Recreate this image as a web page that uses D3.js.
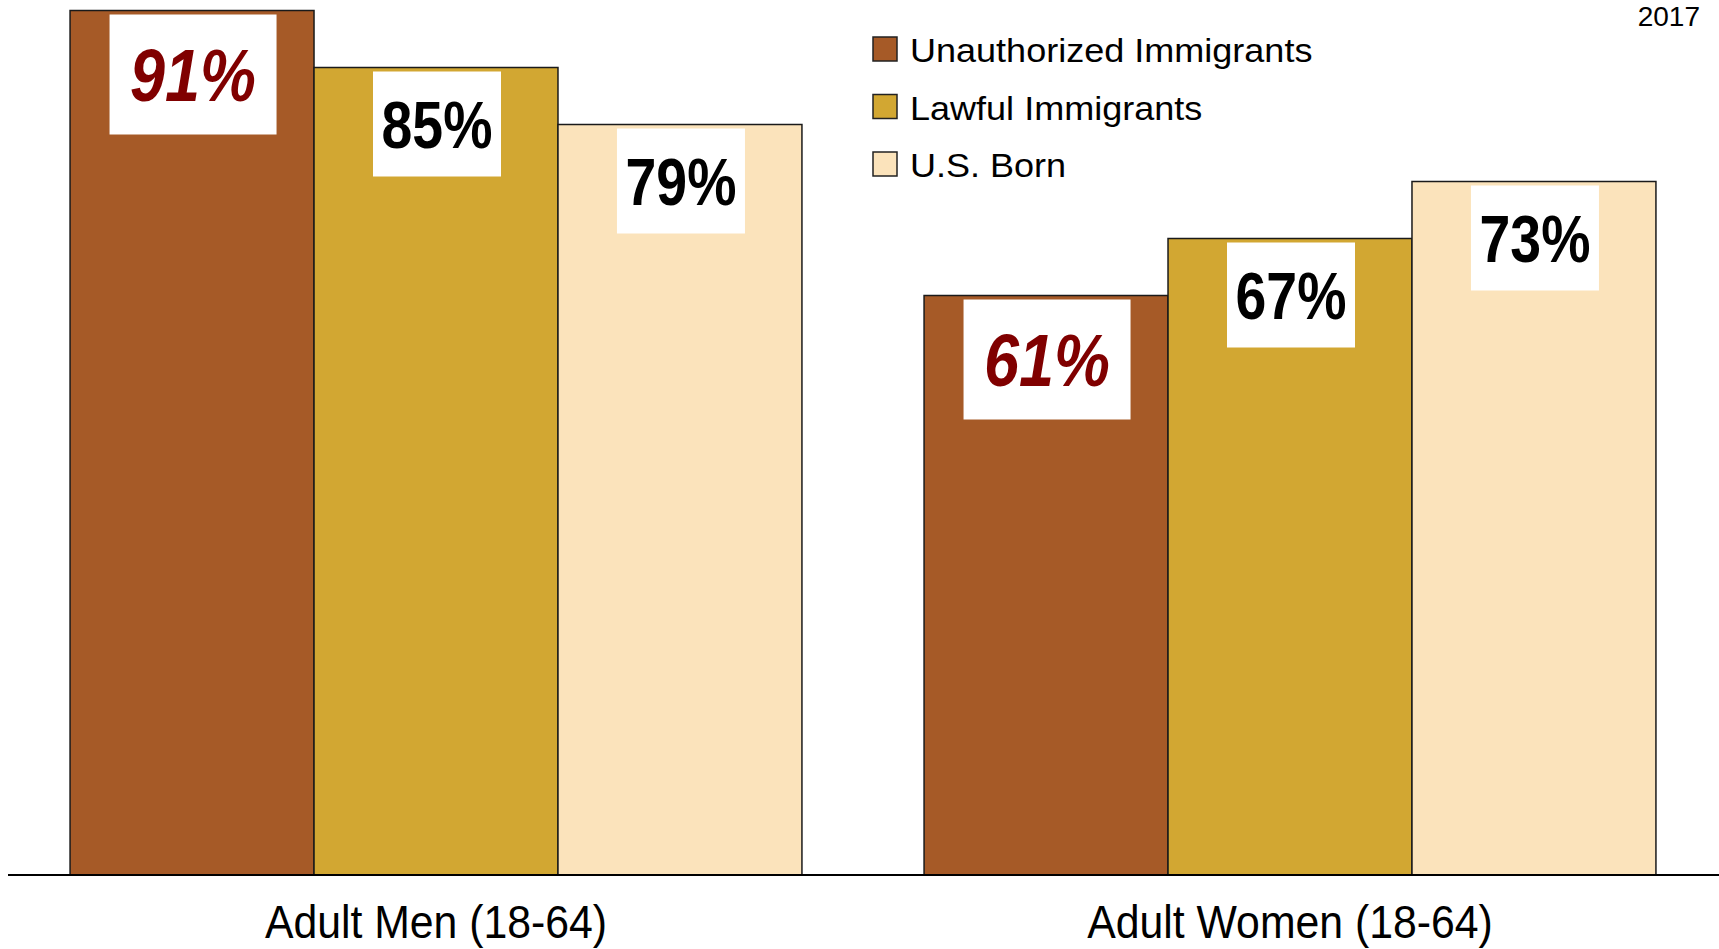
<!DOCTYPE html>
<html>
<head>
<meta charset="utf-8">
<script src="https://cdn.jsdelivr.net/npm/d3@7"></script>
<style>
  html, body { margin: 0; padding: 0; background: #fff; }
  svg { display: block; font-family: "Liberation Sans", Arial, sans-serif; }
</style>
</head>
<body>
<svg id="chart"></svg>
<script>
// ---- data ----
const groups = ["Adult Men (18-64)", "Adult Women (18-64)"];
const series = ["Unauthorized Immigrants", "Lawful Immigrants", "U.S. Born"];
const unauthorized = [91, 61];
const lawful = [85, 67];
const usBorn = [79, 73];
const yearNote = "2017";

const colors = ["#A65A27", "#D2A732", "#FBE3BB"];

// label box style per series (first series is highlighted)
const labelStyle = [
  { w: 167, h: 120, size: 74, sx: 0.85, italic: true, fill: "#800000" },
  { w: 128, h: 105, size: 66, sx: 0.84, italic: false, fill: "#000" },
  { w: 128, h: 105, size: 66, sx: 0.84, italic: false, fill: "#000" }
];

const width = 1719;
const height = 949;
const baseY = 875;

const svg = d3.select("#chart")
  .attr("width", width)
  .attr("height", height);

const values = [unauthorized, lawful, usBorn];
const rows = groups.map((g, gi) => ({
  group: g,
  items: series.map((s, si) => ({ series: s, si, value: values[si][gi] }))
}));

const x0 = d3.scaleBand()
  .domain(groups)
  .range([9, 1717])
  .paddingInner(0.143)
  .paddingOuter(0.0715);

const x1 = d3.scaleBand()
  .domain(series)
  .range([0, x0.bandwidth()]);

const y = d3.scaleLinear()
  .domain([0, 100])
  .range([baseY, baseY - 950]);

const color = d3.scaleOrdinal().domain(series).range(colors);

// ---- bars ----
const gGroups = svg.append("g")
  .selectAll("g")
  .data(rows)
  .join("g")
  .attr("transform", d => `translate(${x0(d.group)},0)`);

gGroups.selectAll("rect.bar")
  .data(d => d.items)
  .join("rect")
  .attr("class", "bar")
  .attr("x", d => x1(d.series))
  .attr("y", d => y(d.value))
  .attr("width", x1.bandwidth())
  .attr("height", d => baseY - y(d.value))
  .attr("fill", d => color(d.series))
  .attr("stroke", "#1a1a1a")
  .attr("stroke-width", 1.5);

// ---- value labels ----
const labels = gGroups.selectAll("g.lbl")
  .data(d => d.items)
  .join("g")
  .attr("class", "lbl");

labels.append("rect")
  .attr("x", d => x1(d.series) + x1.bandwidth() / 2 + 1 - labelStyle[d.si].w / 2)
  .attr("y", d => y(d.value) + 4)
  .attr("width", d => labelStyle[d.si].w)
  .attr("height", d => labelStyle[d.si].h)
  .attr("fill", "#fff");

labels.append("text")
  .attr("transform", d => {
    const st = labelStyle[d.si];
    const cx = x1(d.series) + x1.bandwidth() / 2 + 1;
    const cy = y(d.value) + 4 + st.h / 2 + st.size * 0.716 / 2;
    return `translate(${cx},${cy}) scale(${st.sx},1)`;
  })
  .attr("text-anchor", "middle")
  .attr("font-weight", "bold")
  .attr("font-style", d => labelStyle[d.si].italic ? "italic" : "normal")
  .attr("font-size", d => labelStyle[d.si].size)
  .attr("fill", d => labelStyle[d.si].fill)
  .text(d => d.value + "%");

// ---- x axis ----
const xAxis = svg.append("g")
  .attr("transform", `translate(0,${baseY})`)
  .call(d3.axisBottom(x0).tickSize(0).tickSizeOuter(0).tickPadding(30));

xAxis.select(".domain").remove();
xAxis.append("line")
  .attr("x1", 8)
  .attr("x2", width)
  .attr("stroke", "#000")
  .attr("stroke-width", 2);

xAxis.selectAll(".tick text")
  .attr("font-size", 47)
  .attr("font-family", "\"Liberation Sans\", Arial, sans-serif")
  .attr("fill", "#000")
  .attr("transform", "scale(0.91,1)");

// ---- legend ----
const legend = svg.append("g")
  .attr("transform", "translate(873,37)")
  .selectAll("g")
  .data(series)
  .join("g")
  .attr("transform", (d, i) => `translate(0,${i * 57.5})`);

legend.append("rect")
  .attr("width", 24)
  .attr("height", 24)
  .attr("fill", d => color(d))
  .attr("stroke", "#222")
  .attr("stroke-width", 1.5);

legend.append("text")
  .attr("transform", "translate(37,25) scale(1.06,1)")
  .attr("font-size", 34)
  .attr("fill", "#000")
  .text(d => d);

// ---- year note ----
svg.append("text")
  .attr("x", 1700)
  .attr("y", 26)
  .attr("text-anchor", "end")
  .attr("font-size", 28)
  .attr("fill", "#000")
  .text(yearNote);
</script>
</body>
</html>
